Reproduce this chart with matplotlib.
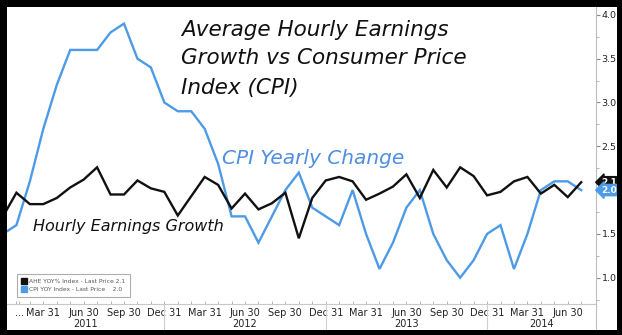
import matplotlib
matplotlib.use('Agg')
import matplotlib.pyplot as plt
from matplotlib.patches import Rectangle
from matplotlib.lines import Line2D
import matplotlib.transforms as mtransforms
import numpy as np

# ---------------- data (monthly, Dec 2010 .. Jul 2014) ----------------
ahe_yoy = [1.70, 1.97, 1.84, 1.84, 1.91, 2.03, 2.12, 2.26, 1.95, 1.95, 2.11, 2.02, 1.98,
           1.71, 1.93, 2.15, 2.06, 1.79, 1.96, 1.78, 1.85, 1.97, 1.45, 1.91, 2.11,
           2.15, 2.10, 1.89, 1.96, 2.04, 2.18, 1.91, 2.23, 2.03, 2.26, 2.16, 1.94,
           1.98, 2.10, 2.15, 1.96, 2.06, 1.92, 2.09]
cpi_yoy = [1.5, 1.6, 2.1, 2.7, 3.2, 3.6, 3.6, 3.6, 3.8, 3.9, 3.5, 3.4, 3.0,
           2.9, 2.9, 2.7, 2.3, 1.7, 1.7, 1.4, 1.7, 2.0, 2.2, 1.8, 1.7,
           1.6, 2.0, 1.5, 1.1, 1.4, 1.8, 2.0, 1.5, 1.2, 1.0, 1.2, 1.5,
           1.6, 1.1, 1.5, 2.0, 2.1, 2.1, 2.0]
quarter_labels = ["Mar 31", "Jun 30", "Sep 30", "Dec 31"]
first_label = "..."
years = ["2011", "2012", "2013", "2014"]
y_ticks = [1.0, 1.5, 2.0, 2.5, 3.0, 3.5, 4.0]
y_tick_labels = ["1.0", "1.5", "", "2.5", "3.0", "3.5", "4.0"]  # 2.0 hidden behind the last-price tags
legend_labels = ["AHE YOY% Index - Last Price 2.1", "CPI YOY Index - Last Price    2.0"]
last_labels = ["2.1", "2.0"]
title_lines = ["Average Hourly Earnings", "Growth vs Consumer Price", "Index (CPI)"]

BLACK = '#111111'
BLUE = '#4d9be6'

W, H = 622, 335
fig = plt.figure(figsize=(W / 100, H / 100), dpi=100)
fig.patch.set_facecolor('white')


def fx(px):
    return px / W


def fy(py):
    return 1 - py / H


ax = fig.add_axes([fx(7), fy(304), fx(596) - fx(7), fy(7) - fy(304)])
x = np.arange(len(cpi_yoy))
ax.plot(x, cpi_yoy, color=BLUE, lw=1.7, zorder=2, solid_joinstyle='miter')
ax.plot(x, ahe_yoy, color=BLACK, lw=1.7, zorder=3, solid_joinstyle='miter')
ax.set_xlim(0.3, 44.1)
ax.set_ylim(0.70, 4.09)

for s in ['top', 'left']:
    ax.spines[s].set_visible(False)
ax.spines['bottom'].set_color('#c8c8c8')
ax.spines['right'].set_color('#bdbdbd')

# y axis on the right
ax.yaxis.tick_right()
ax.set_yticks(y_ticks)
ax.set_yticklabels(y_tick_labels)
ax.set_yticks(np.arange(0.75, 4.01, 0.25), minor=True)
ax.tick_params(axis='y', which='major', direction='out', length=3, width=0.8,
               color='#888888', labelsize=6.8, pad=1, labelcolor='#222222')
ax.tick_params(axis='y', which='minor', direction='out', length=2, width=0.6, color='#aaaaaa')

# x axis quarter ticks
qpos = list(np.arange(3, len(cpi_yoy), 3))
ax.set_xticks([1.2] + qpos)
ax.set_xticklabels([first_label] + [quarter_labels[i % 4] for i in range(len(qpos))])
ax.set_xticks(np.arange(1, len(cpi_yoy)), minor=True)
ax.tick_params(axis='x', which='major', direction='in', length=2, width=0.6,
               color='#aaaaaa', labelsize=7, pad=3, labelcolor='#222222')
ax.tick_params(axis='x', which='minor', direction='in', length=2, width=0.6, color='#aaaaaa')

trans = mtransforms.blended_transform_factory(ax.transData, ax.transAxes)
trans_y = mtransforms.blended_transform_factory(ax.transAxes, ax.transData)

# year labels and separators
for i, yr in enumerate(years):
    start = 12 * i
    end = min(12 * (i + 1), 44.1)
    lo = max(start, 0.3)
    ax.text((lo + end) / 2, -0.05, yr, transform=trans, ha='center', va='top',
            fontsize=7, color='#222222')
for b in [12, 24, 36]:
    ax.add_line(Line2D([b, b], [0, -0.09], transform=trans, color='#d0d0d0', lw=0.8, clip_on=False))
ax.add_line(Line2D([1, 1], [0, -0.09], transform=ax.transAxes, color='#bdbdbd', lw=0.8, clip_on=False))

# legend
handles = [Line2D([], [], marker='s', ls='', color=BLACK, markersize=4.2),
           Line2D([], [], marker='s', ls='', color=BLUE, markersize=4.2)]
leg = ax.legend(handles, legend_labels, loc='lower left', bbox_to_anchor=(0.017, 0.024),
                fontsize=4.3, frameon=True, fancybox=False, handlelength=0.6, handletextpad=0.5,
                borderpad=0.85, labelspacing=0.4, edgecolor='#999999', borderaxespad=0)
leg.get_frame().set_linewidth(0.8)
for t in leg.get_texts():
    t.set_color('#555555')

# last-price tags
tag_colors = [(BLACK, 'white'), (BLUE, '#ffffff')]
for lab, val, (bg, fg) in zip(last_labels, [ahe_yoy[-1], cpi_yoy[-1]], tag_colors):
    ax.annotate(lab, xy=(1.0, val), xycoords=trans_y, xytext=(4, 0), textcoords='offset points',
                ha='left', va='center', fontsize=6.5, color=fg, fontweight='bold',
                bbox=dict(boxstyle='larrow,pad=0.12', fc=bg, ec=bg), annotation_clip=False, zorder=5)

# annotations
ys = [30, 58, 88]
for line, yy in zip(title_lines, ys):
    fig.text(fx(181), fy(yy), line, fontsize=15.5, style='italic', color='#111111',
             ha='left', va='center')
fig.text(fx(222), fy(158), "CPI Yearly Change", fontsize=14.5, style='italic', color='#4f8fe0',
         ha='left', va='center')
fig.text(fx(33), fy(227), "Hourly Earnings Growth", fontsize=11.5, style='italic', color='#111111',
         ha='left', va='center')

# thick black frame
for (x0, y0, w, h) in [(0, 0, 7, H), (617, 0, 5, H), (0, 0, W, 7), (0, 330, W, 5)]:
    fig.add_artist(Rectangle((fx(x0), fy(y0 + h)), w / W, h / H, transform=fig.transFigure,
                             facecolor='black', edgecolor='none', zorder=20))

fig.savefig('out.png', dpi=100)
